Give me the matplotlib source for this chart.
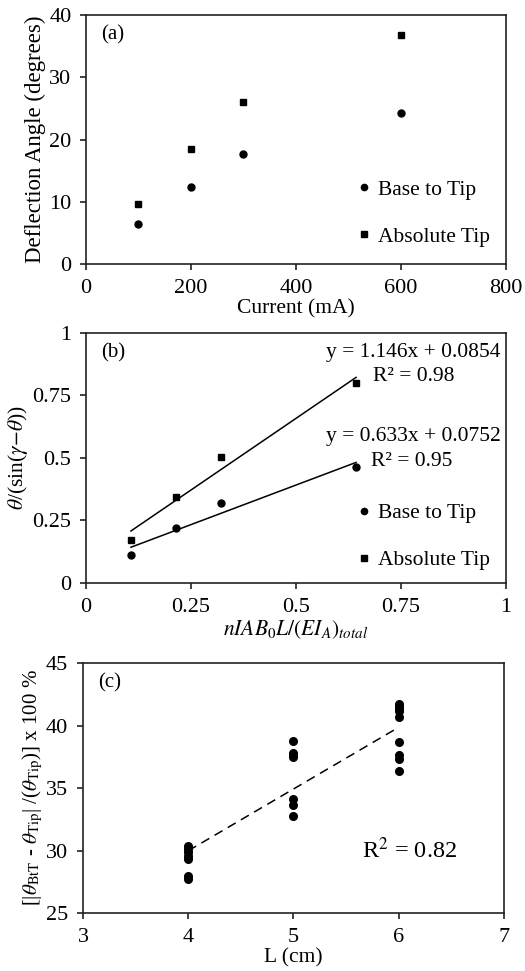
import numpy as np
import matplotlib
matplotlib.use("Agg")
import matplotlib.pyplot as plt

plt.rcParams['font.family'] = ['Liberation Serif', 'DejaVu Serif']
plt.rcParams['mathtext.fontset'] = 'stix'

# Panel (a)
current = [100, 200, 300, 600]
base_to_tip_a = [6.4, 12.3, 17.6, 24.2]
absolute_tip_a = [9.6, 18.5, 26.0, 36.8]

# Panel (b)
xb = [0.107, 0.215, 0.322, 0.643]
base_to_tip_b = [0.113, 0.22, 0.32, 0.465]
absolute_tip_b = [0.17, 0.343, 0.505, 0.80]
fit_abs = (1.146, 0.0854)
fit_base = (0.633, 0.0752)

# Panel (c)
L4 = [30.38, 30.12, 29.86, 29.58, 29.32, 27.93, 27.74]
L5 = [38.78, 37.82, 37.64, 37.46, 34.10, 33.66, 32.76]
L6 = [41.70, 41.50, 41.32, 41.16, 40.70, 38.70, 37.64, 37.30, 36.38]
fit_c = (4.94, 10.22)

fig = plt.figure(figsize=(5.25, 9.71), dpi=100)
FS = 16
LFS = 15.5

def style(ax):
    for s in ax.spines.values():
        s.set_linewidth(1.2)
        s.set_color('#222222')
    ax.tick_params(direction='out', length=4.5, width=1.2, labelsize=FS, colors='#222222', labelcolor='black')
    ax.tick_params(axis='x', pad=6)
    ax.tick_params(axis='y', pad=6)

# (a)
ax1 = fig.add_axes([0.1638, 0.7281, 0.800, 0.2564])
ax1.plot(current, base_to_tip_a, 'o', color='black', ms=5, label='Base to Tip')
ax1.plot(current, absolute_tip_a, 's', color='black', ms=5, label='Absolute Tip')
ax1.set_xlim(0, 800); ax1.set_ylim(0, 40)
ax1.set_xticks([0, 200, 400, 600, 800]); ax1.set_yticks([0, 10, 20, 30, 40])
ax1.set_xlabel('Current (mA)', fontsize=LFS, labelpad=1)
ax1.set_ylabel('Deflection Angle (degrees)', fontsize=16.5, labelpad=2)
ax1.text(0.035, 0.92, '(a)', transform=ax1.transAxes, fontsize=15, va='center')
ax1.legend(loc='center left', bbox_to_anchor=(0.60, 0.205), frameon=False, fontsize=LFS,
           handlelength=0.6, handletextpad=0.35, labelspacing=1.25, markerscale=0.9)
style(ax1)

# (b)
ax2 = fig.add_axes([0.1638, 0.3996, 0.800, 0.2575])
ax2.plot(xb, base_to_tip_b, 'o', color='black', ms=5, label='Base to Tip')
ax2.plot(xb, absolute_tip_b, 's', color='black', ms=5, label='Absolute Tip')
xe = np.array([xb[0], xb[-1]])
ax2.plot(xe, fit_abs[0] * xe + fit_abs[1], '-', color='black', lw=1.1)
ax2.plot(xe, fit_base[0] * xe + fit_base[1], '-', color='black', lw=1.1)
ax2.set_xlim(0, 1); ax2.set_ylim(0, 1)
ax2.set_xticks([0, 0.25, 0.5, 0.75, 1]); ax2.set_xticklabels(['0', '0.25', '0.5', '0.75', '1'])
ax2.set_yticks([0, 0.25, 0.5, 0.75, 1]); ax2.set_yticklabels(['0', '0.25', '0.5', '0.75', '1'])
ax2.set_xlabel(r'$nIAB_0L/(EI_A)_{total}$', fontsize=LFS, labelpad=1)
ax2.set_ylabel(r'$\theta$/(sin($\gamma$$-$$\theta$))', fontsize=LFS, labelpad=2)
ax2.text(0.035, 0.92, '(b)', transform=ax2.transAxes, fontsize=15, va='center')
ax2.text(0.78, 0.92, 'y = 1.146x + 0.0854', transform=ax2.transAxes, fontsize=LFS, ha='center', va='center')
ax2.text(0.78, 0.825, 'R² = 0.98', transform=ax2.transAxes, fontsize=LFS, ha='center', va='center')
ax2.text(0.78, 0.585, 'y = 0.633x + 0.0752', transform=ax2.transAxes, fontsize=LFS, ha='center', va='center')
ax2.text(0.775, 0.485, 'R² = 0.95', transform=ax2.transAxes, fontsize=LFS, ha='center', va='center')
ax2.legend(loc='center left', bbox_to_anchor=(0.60, 0.185), frameon=False, fontsize=LFS,
           handlelength=0.6, handletextpad=0.35, labelspacing=1.25, markerscale=0.9)
style(ax2)

# (c)
ax3 = fig.add_axes([0.158, 0.0597, 0.802, 0.2575])
for xv, ys in [(4, L4), (5, L5), (6, L6)]:
    ax3.plot([xv] * len(ys), ys, 'o', color='black', ms=5.5)
xc = np.array([4, 6])
ax3.plot(xc, fit_c[0] * xc + fit_c[1], '--', color='black', lw=1.1, dashes=(6, 4))
ax3.set_xlim(3, 7); ax3.set_ylim(25, 45)
ax3.set_xticks([3, 4, 5, 6, 7]); ax3.set_yticks([25, 30, 35, 40, 45])
ax3.set_xlabel('L (cm)', fontsize=LFS, labelpad=1)
ax3.set_ylabel(r'[|$\theta_{\mathrm{BtT}}$ - $\theta_{\mathrm{Tip}}$| /($\theta_{\mathrm{Tip}}$)] x 100 %', fontsize=15, labelpad=1)
ax3.text(0.035, 0.92, '(c)', transform=ax3.transAxes, fontsize=15, va='center')
ax3.text(0.775, 0.25, r'R$^2$ = 0.82', transform=ax3.transAxes, fontsize=17.5, ha='center', va='center')
style(ax3)

fig.savefig('out.png', dpi=100)
